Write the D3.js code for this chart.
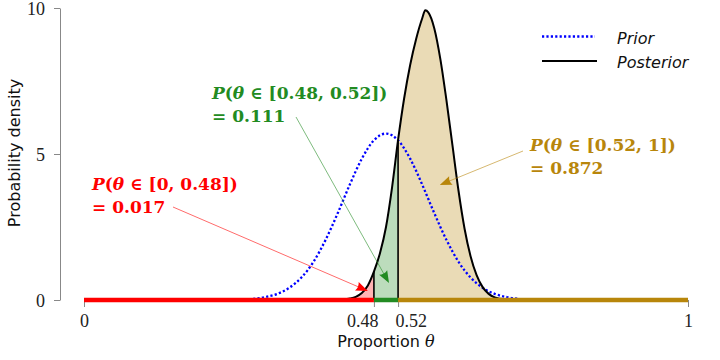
<!DOCTYPE html>
<html>
<head>
<meta charset="utf-8">
<script src="https://cdn.jsdelivr.net/npm/d3@7"></script>
<style>
  html, body { margin: 0; padding: 0; background: #fff; }
  svg { display: block; }
</style>
</head>
<body>
<svg id="chart" width="720" height="360"></svg>
<script>
// ---------------- DATA ----------------
const priorTheta   = [0.28, 0.30, 0.32, 0.34, 0.36, 0.38, 0.40, 0.42, 0.44, 0.46, 0.48, 0.50,
                      0.52, 0.54, 0.56, 0.58, 0.60, 0.62, 0.64, 0.66, 0.68, 0.70, 0.72];
const priorDensity = [0.04, 0.10, 0.21, 0.42, 0.77, 1.31, 2.06, 2.97, 3.95, 4.84, 5.47, 5.70,
                      5.47, 4.84, 3.95, 2.97, 2.06, 1.31, 0.77, 0.42, 0.21, 0.10, 0.04];

const postTheta   = [0.40, 0.41, 0.42, 0.43, 0.44, 0.45, 0.46, 0.47, 0.48, 0.49, 0.50, 0.51,
                     0.52, 0.53, 0.54, 0.55, 0.56, 0.565, 0.57, 0.58, 0.59, 0.60, 0.61, 0.62,
                     0.63, 0.64, 0.65, 0.66, 0.67, 0.68, 0.69, 0.70, 0.71, 0.72];
const postDensity = [0.00, 0.00, 0.01, 0.02, 0.05, 0.11, 0.24, 0.50, 0.97, 1.60, 2.50, 3.85,
                     5.48, 6.90, 8.05, 8.95, 9.65, 9.92, 9.85, 9.30, 8.25, 6.85, 5.30, 3.75,
                     2.45, 1.50, 0.85, 0.44, 0.21, 0.09, 0.04, 0.01, 0.00, 0.00];

const cutPoints   = [0, 0.48, 0.52, 1];
const regionProb  = [0.017, 0.111, 0.872];
const xTickValues = [0, 0.48, 0.52, 1];
const xTickLabels = ["0", "0.48", "0.52", "1"];
const yTickValues = [0, 5, 10];
const legendLabels = ["Prior", "Posterior"];

// ---------------- STYLE ----------------
const regionColor = ["#ff0000", "#228b22", "#b8860b"];
const regionFill  = ["#ffb3b3", "#bcdcbc", "#eadbb6"];
// annotation layout (pixel offsets for text, arrow tips in data units)
const annot = [
  { tx: 92,  ty: 190, from: [173, 207], tip: [0.470, 0.31] },
  { tx: 212, ty: 99,  from: [296, 117], tip: [0.505, 0.58] },
  { tx: 530, ty: 151, from: [523, 151], tip: [0.589, 3.94] }
];

const svg = d3.select("#chart");
const x = d3.scaleLinear().domain([0, 1]).range([84, 688]);
const y = d3.scaleLinear().domain([0, 10]).range([300, 8]);

const prior = priorTheta.map((t, i) => ({ t, d: priorDensity[i] }));
const post  = postTheta.map((t, i) => ({ t, d: postDensity[i] }));

const defs = svg.append("defs");
for (let i = 0; i < 3; i++) {
  defs.append("clipPath").attr("id", "clip" + i)
    .append("rect")
    .attr("x", x(cutPoints[i])).attr("y", 0)
    .attr("width", x(cutPoints[i + 1]) - x(cutPoints[i])).attr("height", 400);
}

const curve = d3.curveMonotoneX;
const area = d3.area().x(p => x(p.t)).y0(y(0)).y1(p => y(p.d)).curve(curve);
const line = d3.line().x(p => x(p.t)).y(p => y(p.d)).curve(curve);

// region fills
for (let i = 0; i < 3; i++) {
  svg.append("path").datum(post)
    .attr("d", area)
    .attr("fill", regionFill[i])
    .attr("clip-path", `url(#clip${i})`);
}

// prior dotted
svg.append("path").datum(prior)
  .attr("d", line)
  .attr("fill", "none")
  .attr("stroke", "#0000ff")
  .attr("stroke-width", 2.3)
  .attr("stroke-dasharray", "2.2,2.2");

// vertical lines at inner cut points
[1, 2].forEach(i => {
  const c = cutPoints[i];
  const p = post.find(q => Math.abs(q.t - c) < 1e-9);
  svg.append("line")
    .attr("x1", x(c)).attr("x2", x(c))
    .attr("y1", y(0)).attr("y2", y(p.d))
    .attr("stroke", "#000").attr("stroke-width", 1.6);
});

// posterior line
svg.append("path").datum(post)
  .attr("d", line)
  .attr("fill", "none")
  .attr("stroke", "#000")
  .attr("stroke-width", 2);

// Y axis
const yAxis = svg.append("g")
  .attr("transform", "translate(60,0)")
  .call(d3.axisLeft(y).tickValues(yTickValues).tickSize(6).tickSizeOuter(0).tickPadding(9));
yAxis.select(".domain").attr("stroke", "#888");
yAxis.selectAll(".tick line").attr("stroke", "#888");
yAxis.selectAll(".tick text")
  .attr("font-family", "'Liberation Serif', serif")
  .attr("font-size", 18).attr("fill", "#222")
  .attr("dy", "0.36em");

// X axis (ticks + labels only)
const xAxis = svg.append("g")
  .attr("transform", "translate(0,300)")
  .call(d3.axisBottom(x).tickValues(xTickValues).tickSize(7).tickSizeOuter(0).tickPadding(7)
        .tickFormat((d, i) => xTickLabels[i]));
xAxis.select(".domain").remove();
xAxis.selectAll(".tick line").attr("stroke", "#888");
xAxis.selectAll(".tick text")
  .attr("font-family", "'Liberation Serif', serif")
  .attr("font-size", 18).attr("fill", "#222")
  .attr("text-anchor", (d, i) => i === 1 ? "end" : (i === 2 ? "start" : "middle"))
  .attr("dx", (d, i) => i === 1 ? 4 : (i === 2 ? -3 : 0));

// coloured baseline segments
for (let i = 0; i < 3; i++) {
  svg.append("line")
    .attr("x1", x(cutPoints[i])).attr("x2", x(cutPoints[i + 1]))
    .attr("y1", y(0)).attr("y2", y(0))
    .attr("stroke", regionColor[i]).attr("stroke-width", 4.5);
}

// axis titles
svg.append("text")
  .attr("x", (x(0) + x(1)) / 2).attr("y", 347)
  .attr("text-anchor", "middle")
  .attr("font-family", "'DejaVu Sans', sans-serif").attr("font-size", 16).attr("fill", "#111")
  .call(t => {
    t.append("tspan").text("Proportion ");
    t.append("tspan").attr("font-family", "'DejaVu Serif', serif").attr("font-style", "italic").text("θ");
  });

svg.append("text")
  .attr("transform", "translate(20,153) rotate(-90)")
  .attr("text-anchor", "middle")
  .attr("font-family", "'DejaVu Sans', sans-serif").attr("font-size", 16).attr("fill", "#111")
  .text("Probability density");

// annotations
annot.forEach((a, i) => {
  const col = regionColor[i];
  const tip = [x(a.tip[0]), y(a.tip[1])];
  const dx = tip[0] - a.from[0], dy = tip[1] - a.from[1];
  const len = Math.hypot(dx, dy);
  const ux = dx / len, uy = dy / len;
  const L = 12, Wd = 4.6;
  const bx = tip[0] - ux * L, by = tip[1] - uy * L;
  svg.append("line")
    .attr("x1", a.from[0]).attr("y1", a.from[1])
    .attr("x2", bx + ux * 2).attr("y2", by + uy * 2)
    .attr("stroke", col).attr("stroke-width", 0.9).attr("stroke-opacity", 0.65);
  const nx = -uy, ny = ux;
  const p1 = [bx + nx * Wd, by + ny * Wd];
  const p2 = [bx - nx * Wd, by - ny * Wd];
  const notch = [bx + ux * 2.5, by + uy * 2.5];
  svg.append("path")
    .attr("d", `M${tip[0]},${tip[1]}L${p1[0]},${p1[1]}Q${notch[0]},${notch[1]} ${p2[0]},${p2[1]}Z`)
    .attr("fill", col);

  const lo = cutPoints[i], hi = cutPoints[i + 1];
  const t1 = svg.append("text")
    .attr("x", a.tx).attr("y", a.ty)
    .attr("font-family", "'DejaVu Serif', serif").attr("font-weight", "bold")
    .attr("font-size", 17).attr("fill", col);
  t1.append("tspan").attr("font-style", "italic").text("P");
  t1.append("tspan").text("(");
  t1.append("tspan").attr("font-style", "italic").text("θ");
  t1.append("tspan").text(` ∈ [${lo}, ${hi}])`);
  svg.append("text")
    .attr("x", a.tx).attr("y", a.ty + 23)
    .attr("font-family", "'DejaVu Serif', serif").attr("font-weight", "bold")
    .attr("font-size", 17).attr("fill", col)
    .text(`= ${regionProb[i].toFixed(3)}`);
});

// legend
const leg = svg.append("g");
leg.append("line").attr("x1", 542).attr("x2", 595).attr("y1", 36.5).attr("y2", 36.5)
  .attr("stroke", "#0000ff").attr("stroke-width", 2.3).attr("stroke-dasharray", "2.2,2.2");
leg.append("line").attr("x1", 542).attr("x2", 597).attr("y1", 61).attr("y2", 61)
  .attr("stroke", "#000").attr("stroke-width", 2);
legendLabels.forEach((s, i) => {
  leg.append("text").attr("x", 617).attr("y", 43.5 + i * 24)
    .attr("font-family", "'DejaVu Sans', sans-serif").attr("font-style", "italic")
    .attr("font-size", 16).attr("fill", "#111").text(s);
});
</script>
</body>
</html>
